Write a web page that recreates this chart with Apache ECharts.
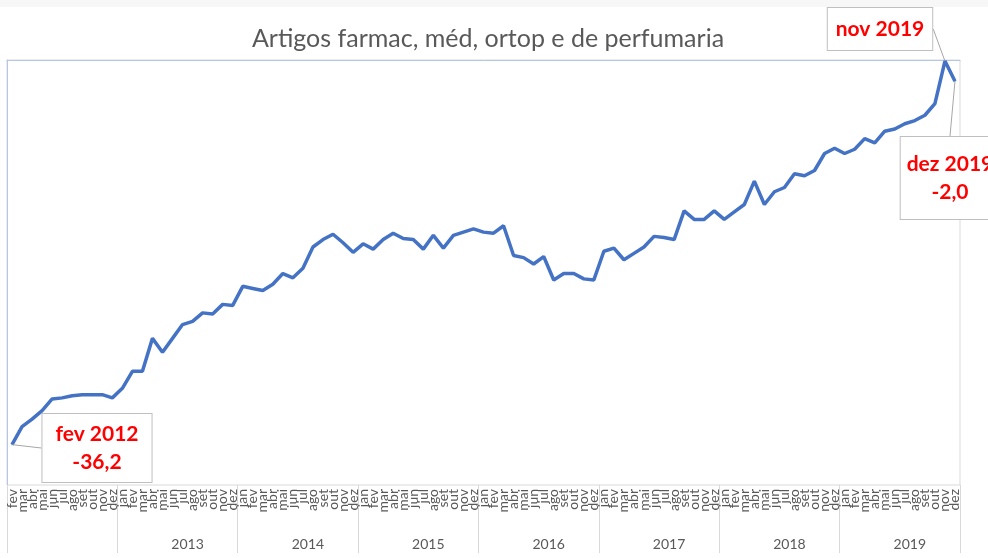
<!DOCTYPE html>
<html>
<head>
<meta charset="utf-8">
<script src="https://cdn.jsdelivr.net/npm/echarts@6/dist/echarts.min.js"></script>
<style>
  html, body { margin: 0; padding: 0; background: #f7f7f7; }
  #chart { position: absolute; left: 0; top: 7px; width: 988px; height: 551px; background: #fff; }
</style>
</head>
<body>
<div id="chart"></div>
<script>
const monthNames = ['jan', 'fev', 'mar', 'abr', 'mai', 'jun', 'jul', 'ago', 'set', 'out', 'nov', 'dez'];
const years = [2012, 2013, 2014, 2015, 2016, 2017, 2018, 2019];
// série começa em fev 2012
const values = [
  -36.2, -34.5, -33.8, -33.0, -31.9, -31.8, -31.6, -31.5, -31.5, -31.5, -31.8,
  -30.9, -29.3, -29.3, -26.2, -27.5, -26.2, -24.9, -24.6, -23.8, -23.9, -23.0, -23.1,
  -21.3, -21.5, -21.7, -21.1, -20.1, -20.5, -19.6, -17.6, -16.9, -16.4, -17.2, -18.1,
  -17.3, -17.8, -16.9, -16.3, -16.8, -16.9, -17.8, -16.5, -17.7, -16.5, -16.2, -15.9,
  -16.2, -16.3, -15.6, -18.4, -18.6, -19.2, -18.5, -20.7, -20.1, -20.1, -20.6, -20.7,
  -18.0, -17.7, -18.8, -18.2, -17.6, -16.6, -16.7, -16.9, -14.2, -15.0, -15.0, -14.2,
  -15.0, -14.3, -13.6, -11.4, -13.6, -12.4, -12.0, -10.7, -10.9, -10.4, -8.8, -8.3,
  -8.8, -8.4, -7.4, -7.8, -6.7, -6.5, -6.0, -5.7, -5.2, -4.1, -0.1, -2.0
];
const calloutNames = ['fev 2012', 'nov 2019', 'dez 2019'];
const calloutWithValue = ['fev 2012', 'dez 2019'];

let categories = [];
years.forEach(y => {
  monthNames.forEach((m, i) => {
    if (y === 2012 && i === 0) return;
    categories.push(m + ' ' + y);
  });
});

const calloutPos = {
  'fev 2012': { x: 97, y: 441, padding: [6, 13] },
  'nov 2019': { x: 880, y: 22, padding: [7, 8] },
  'dez 2019': { x: 950, y: 171, padding: [13, 6] }
};

const seriesData = values.map((v, i) => {
  const name = categories[i];
  if (calloutNames.indexOf(name) < 0) return v;
  return {
    value: v,
    label: {
      show: true,
      padding: calloutPos[name].padding,
      formatter: () => calloutWithValue.indexOf(name) >= 0
        ? name + '\n' + v.toFixed(1).replace('.', ',')
        : name
    },
    labelLine: { show: true }
  };
});

const fontFamily = 'Lato, "Open Sans", sans-serif';
const myChart = echarts.init(document.getElementById('chart'));
myChart.setOption({
  animation: false,
  title: {
    text: 'Artigos farmac, méd, ortop e de perfumaria',
    left: 483,
    textAlign: 'center',
    top: 14,
    textStyle: { fontFamily: fontFamily, fontSize: 25, fontWeight: 'normal', color: '#595959' }
  },
  grid: {
    left: 7, right: 28, top: 53, bottom: 73,
    show: true, borderColor: '#d9d9d9', borderWidth: 1
  },
  xAxis: [
    {
      type: 'category',
      data: categories,
      boundaryGap: true,
      axisLine: { lineStyle: { color: '#b4c7e7' } },
      axisTick: { show: false },
      axisLabel: {
        interval: 0,
        rotate: 90,
        margin: 4,
        fontFamily: fontFamily,
        fontSize: 14,
        lineHeight: 11,
        color: '#595959',
        formatter: v => v.split(' ')[0]
      }
    },
    {
      type: 'category',
      data: categories,
      position: 'bottom',
      boundaryGap: true,
      axisLine: { show: false },
      axisTick: {
        show: true,
        length: 68,
        interval: (i, v) => i === 0 || v.split(' ')[0] === 'jan',
        lineStyle: { color: '#d9d9d9' }
      },
      axisLabel: {
        interval: (i, v) => v.split(' ')[0] === 'jul' && v.split(' ')[1] !== '2012',
        margin: 52,
        padding: [0, 0, 0, 10],
        fontFamily: fontFamily,
        fontSize: 14,
        color: '#595959',
        formatter: v => v.split(' ')[1]
      }
    }
  ],
  yAxis: {
    type: 'value',
    min: -40,
    max: 0,
    axisLine: { show: true, lineStyle: { color: '#b4c7e7' } },
    axisTick: { show: false },
    axisLabel: { show: false },
    splitLine: { show: false }
  },
  series: [
    {
      type: 'line',
      xAxisIndex: 0,
      data: seriesData,
      symbol: 'circle',
      symbolSize: 1,
      showSymbol: true,
      showAllSymbol: true,
      itemStyle: { color: '#4472c4' },
      lineStyle: { color: '#4472c4', width: 3.5 },
      label: {
        show: false,
        color: '#ff0000',
        fontFamily: fontFamily,
        fontSize: 21,
        fontWeight: 'bold',
        lineHeight: 28,
        align: 'center',
        backgroundColor: '#fff',
        borderColor: '#bfbfbf',
        borderWidth: 1
      },
      labelLine: {
        show: false,
        lineStyle: { color: '#a6a6a6', width: 1 }
      },
      labelLayout: params => {
        const p = calloutPos[categories[params.dataIndex]];
        if (!p) return {};
        return { x: p.x, y: p.y, align: 'center', verticalAlign: 'middle' };
      }
    }
  ]
});
</script>
</body>
</html>
